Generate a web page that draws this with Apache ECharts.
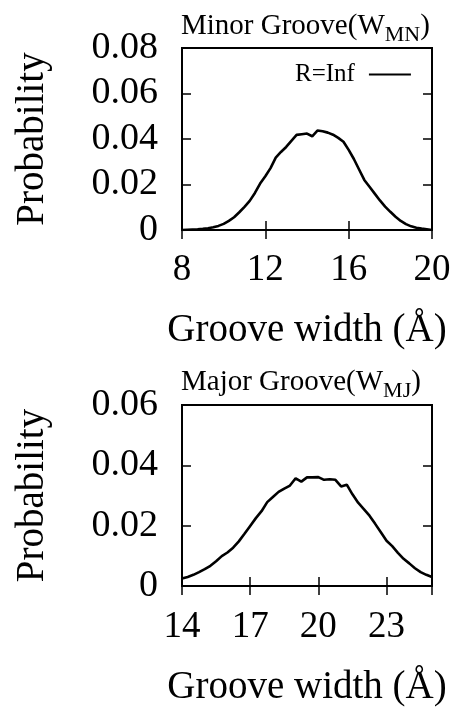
<!DOCTYPE html>
<html>
<head>
<meta charset="utf-8">
<script src="https://cdn.jsdelivr.net/npm/echarts@6/dist/echarts.min.js"></script>
<style>
html,body{margin:0;padding:0;background:#fff;}
#chart{width:459px;height:708px;}
</style>
</head>
<body>
<div id="chart"></div>
<script>
// Minor groove width distribution (top panel)
var minorX = [8.0,8.25,8.5,8.75,9.0,9.25,9.5,9.75,10.0,10.25,10.5,10.75,11.0,11.25,11.5,11.75,12.0,12.25,12.5,12.75,13.0,13.25,13.5,13.75,14.0,14.25,14.5,14.75,15.0,15.25,15.5,15.75,16.0,16.25,16.5,16.75,17.0,17.25,17.5,17.75,18.0,18.25,18.5,18.75,19.0,19.25,19.5,19.75,20.0];
var minorP = [0.0000,0.0001,0.0002,0.0003,0.0005,0.0008,0.0012,0.0018,0.0027,0.0040,0.0056,0.0078,0.0102,0.0128,0.0163,0.0204,0.0236,0.0272,0.0318,0.0343,0.0365,0.0392,0.0418,0.0421,0.0424,0.0412,0.0437,0.0434,0.0428,0.0419,0.0405,0.0388,0.0352,0.0312,0.0266,0.0220,0.0190,0.0160,0.0130,0.0103,0.0080,0.0058,0.0040,0.0026,0.0016,0.0010,0.0006,0.0003,0.0000];
// Major groove width distribution (bottom panel)
var majorX = [14.0,14.25,14.5,14.75,15.0,15.25,15.5,15.75,16.0,16.25,16.5,16.75,17.0,17.25,17.5,17.75,18.0,18.25,18.5,18.75,19.0,19.25,19.5,19.75,20.0,20.25,20.5,20.75,21.0,21.25,21.5,21.75,22.0,22.25,22.5,22.75,23.0,23.25,23.5,23.75,24.0,24.25,24.5,24.75,25.0];
var majorP = [0.0025,0.0030,0.0037,0.0046,0.0056,0.0067,0.0082,0.0099,0.0111,0.0127,0.0148,0.0173,0.0199,0.0225,0.0248,0.0278,0.0295,0.0312,0.0323,0.0333,0.0357,0.0346,0.0360,0.0360,0.0361,0.0352,0.0354,0.0352,0.0330,0.0336,0.0304,0.0276,0.0255,0.0233,0.0206,0.0178,0.0150,0.0132,0.0110,0.0090,0.0075,0.0059,0.0046,0.0037,0.0030];
var seriesName = 'R=Inf';
var titleTop = ['Minor Groove(W', 'MN', ')'];
var titleBottom = ['Major Groove(W', 'MJ', ')'];
var xName = 'Groove width (Å)';
var yName = 'Probability';

function pairs(xs, ys){ return xs.map(function(x,i){ return [x, ys[i]]; }); }

var FONT = 'Liberation Serif';
var tickStyle = {show:true, inside:true, length:9, lineStyle:{color:'#000', width:1.5}};
var lineAx = {show:true, lineStyle:{color:'#000', width:2}};

function xAxes(grid, min, max, interval, gap, margin){
  return [
    {type:'value', gridIndex:grid, position:'bottom', min:min, max:max, interval:interval,
     axisLine:lineAx, axisTick:tickStyle, splitLine:{show:false},
     axisLabel:{fontFamily:FONT, fontSize:37, color:'#000', margin:margin,
                showMaxLabel: (max - min) % interval === 0},
     name:xName, nameLocation:'middle', nameGap:gap,
     nameTextStyle:{fontFamily:FONT, fontSize:39, color:'#000'}},
    {type:'value', gridIndex:grid, position:'top', min:min, max:max, interval:interval,
     axisLine:lineAx, axisTick:tickStyle, splitLine:{show:false}, axisLabel:{show:false}}
  ];
}
function yAxes(grid, max){
  return [
    {type:'value', gridIndex:grid, position:'left', min:0, max:max, interval:0.02,
     axisLine:lineAx, axisTick:tickStyle, splitLine:{show:false},
     axisLabel:{fontFamily:FONT, fontSize:38, color:'#000', margin:24},
     name:yName, nameLocation:'middle', nameGap:130,
     nameTextStyle:{fontFamily:FONT, fontSize:39, color:'#000'}},
    {type:'value', gridIndex:grid, position:'right', min:0, max:max, interval:0.02,
     axisLine:lineAx, axisTick:tickStyle, splitLine:{show:false}, axisLabel:{show:false}}
  ];
}
var richTitle = {
  a:{fontFamily:FONT, fontSize:29, fontWeight:'normal', color:'#000', lineHeight:30, verticalAlign:'top'},
  s:{fontFamily:FONT, fontSize:22, fontWeight:'normal', color:'#000', lineHeight:22, verticalAlign:'top', padding:[12,0,0,0]}
};
function titleText(parts){ return '{a|'+parts[0]+'}{s|'+parts[1]+'}{a|'+parts[2]+'}'; }

var chart = echarts.init(document.getElementById('chart'), null, {renderer:'canvas'});
chart.setOption({
  animation:false,
  backgroundColor:'#fff',
  title:[
    {text:titleText(titleTop), left:181, top:12, padding:0, textStyle:{fontWeight:'normal', rich:richTitle}},
    {text:titleText(titleBottom), left:181, top:368, padding:0, textStyle:{fontWeight:'normal', rich:richTitle}}
  ],
  legend:{
    data:[{name:seriesName}], left:295, top:62, align:'right', padding:0,
    itemWidth:42, itemHeight:2, icon:'rect',
    itemStyle:{color:'#000'},
    textStyle:{fontFamily:FONT, fontSize:25, color:'#000', padding:[0,9,0,0]}
  },
  grid:[
    {left:182, right:27, top:48, height:182, show:true, borderColor:'#000', borderWidth:2, backgroundColor:'transparent'},
    {left:182, right:27, top:405, height:184, show:true, borderColor:'#000', borderWidth:2, backgroundColor:'transparent'}
  ],
  xAxis: xAxes(0, 8, 20, 4, 81, 22).concat(xAxes(1, 14, 25, 3, 82, 23)),
  yAxis: yAxes(0, 0.08).concat(yAxes(1, 0.06)),
  series:[
    {name:seriesName, type:'line', xAxisIndex:0, yAxisIndex:0, data:pairs(minorX, minorP),
     symbol:'none', lineStyle:{color:'#000', width:2.6}, itemStyle:{color:'#000'}},
    {name:seriesName+' ', type:'line', xAxisIndex:2, yAxisIndex:2, data:pairs(majorX, majorP),
     symbol:'none', lineStyle:{color:'#000', width:2.6}, itemStyle:{color:'#000'}}
  ]
});
</script>
</body>
</html>
